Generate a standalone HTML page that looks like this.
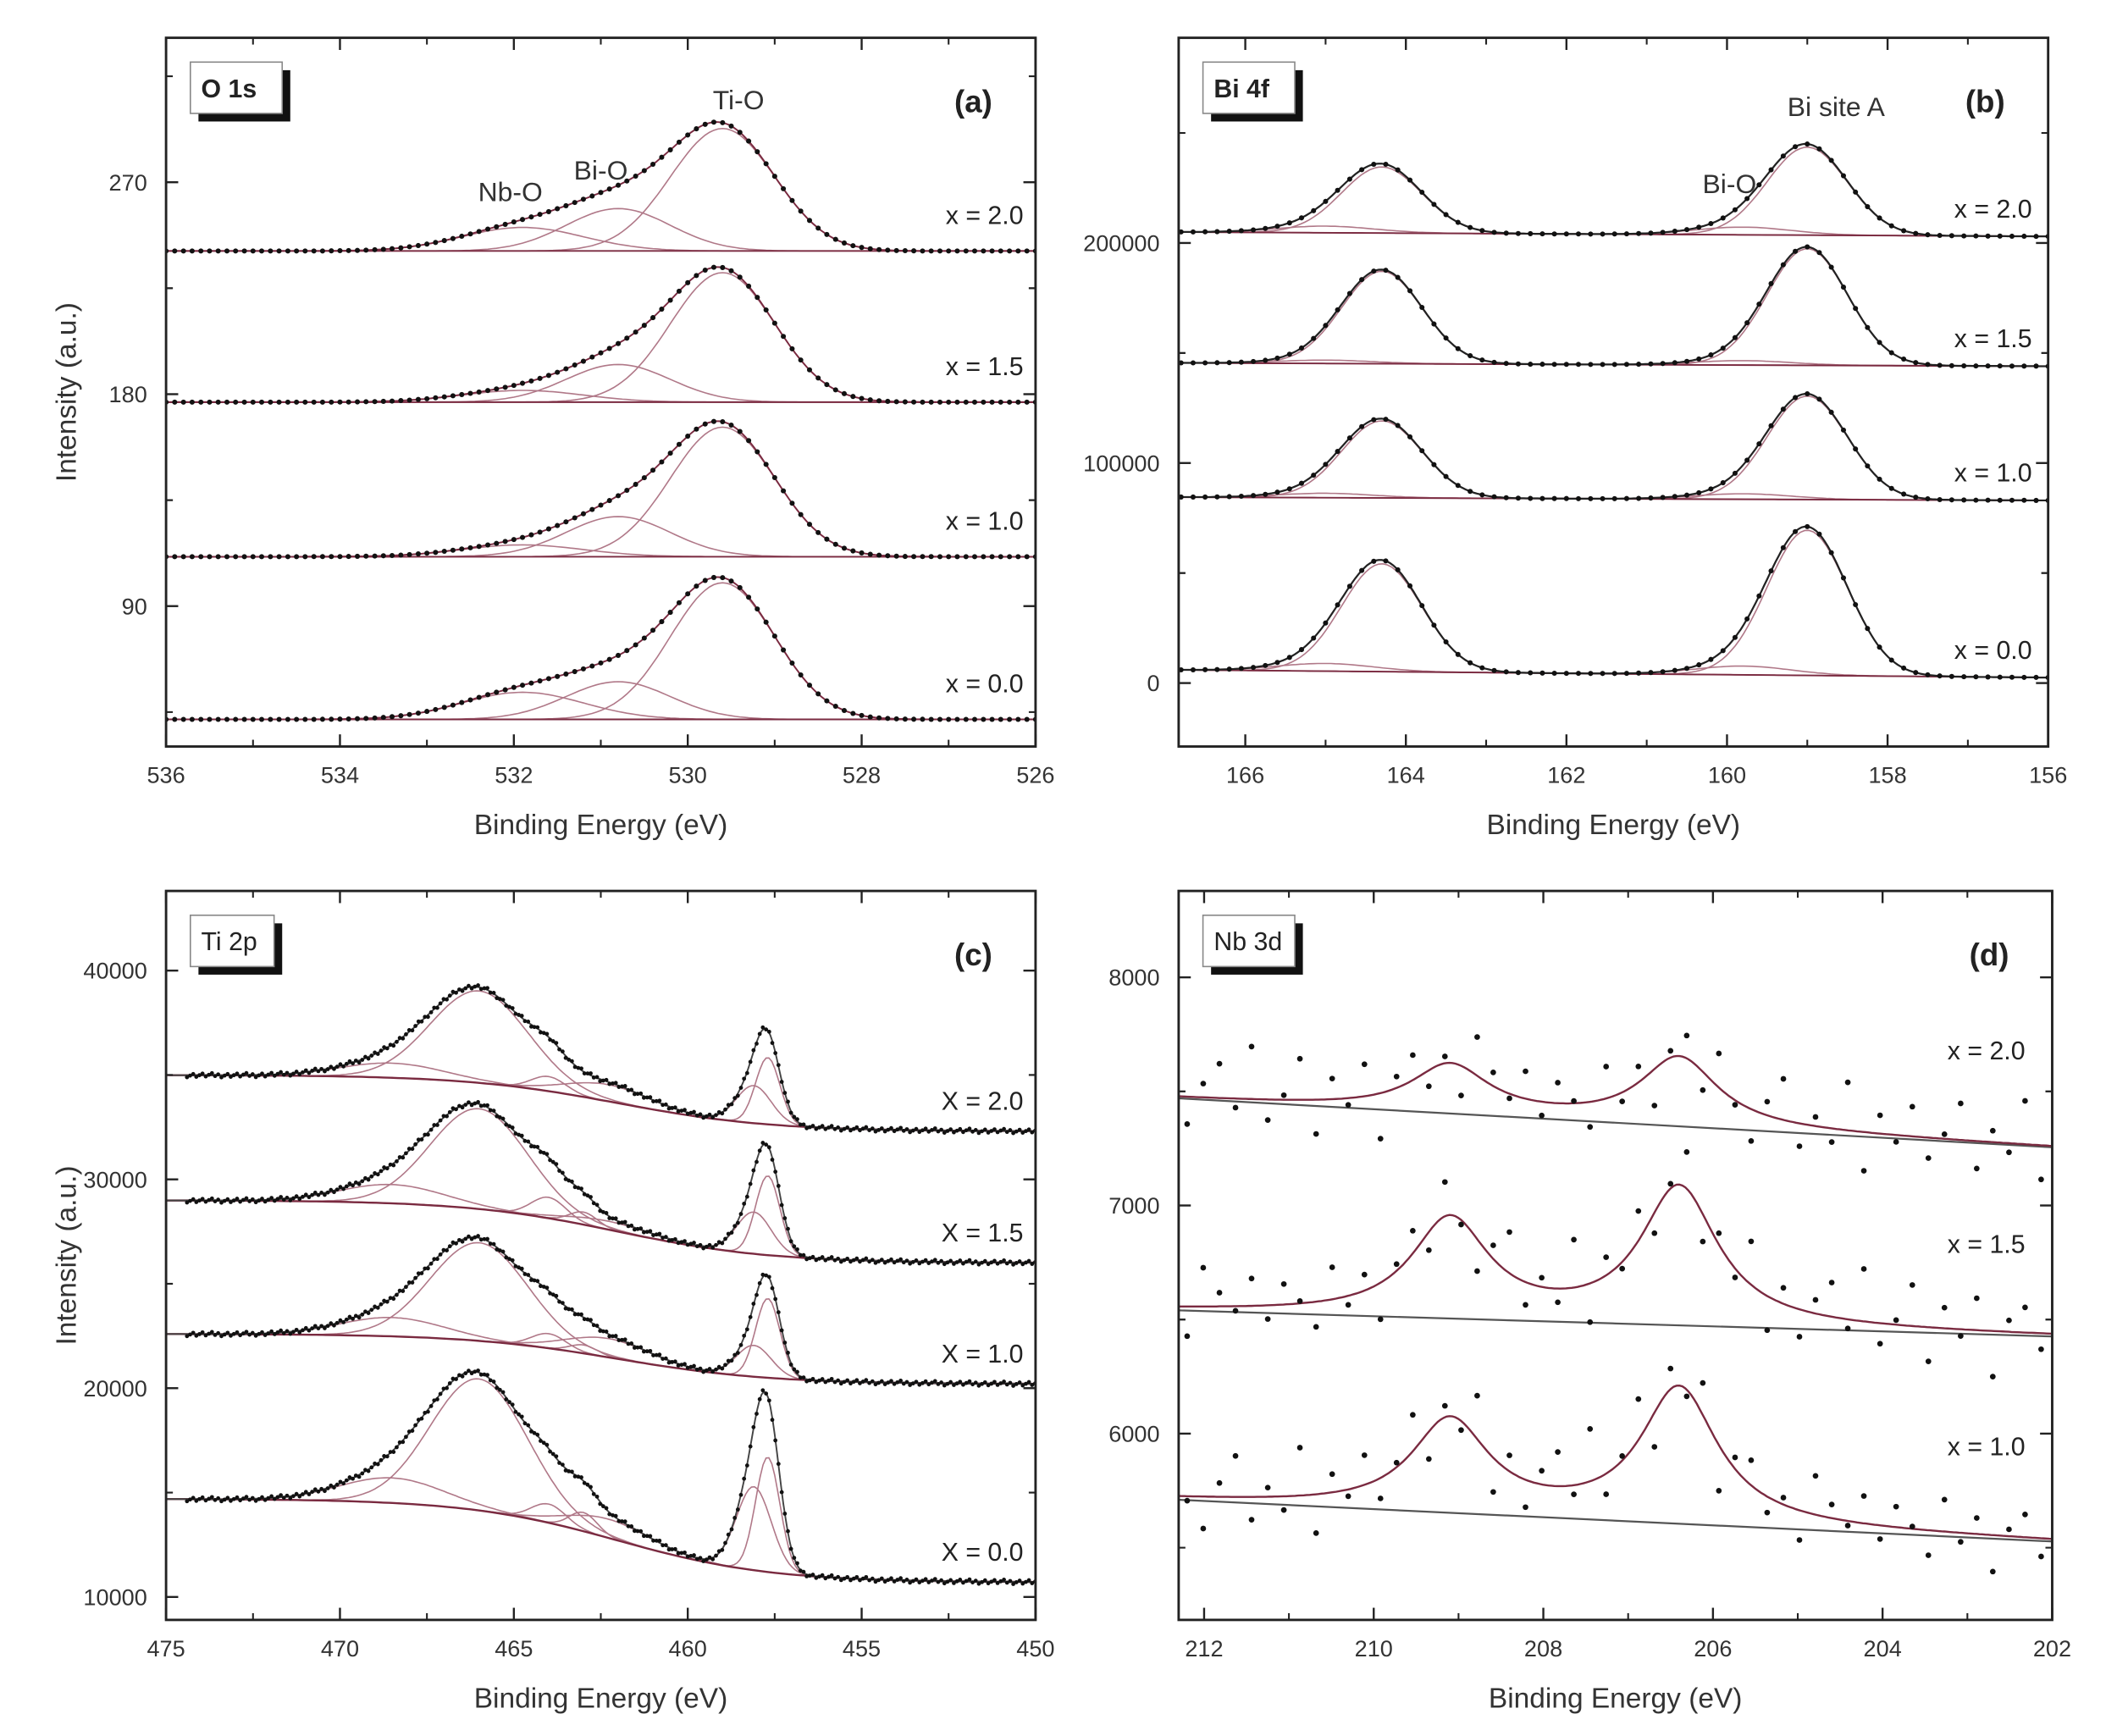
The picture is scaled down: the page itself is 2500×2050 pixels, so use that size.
<!DOCTYPE html>
<html><head><meta charset="utf-8"><style>
html,body{margin:0;padding:0;background:#fff;}
svg{display:block;font-family:"Liberation Sans",sans-serif;}
</style></head><body>
<svg id="fig" width="2500" height="2050" viewBox="0 0 1568 1286" preserveAspectRatio="none" xmlns="http://www.w3.org/2000/svg"></svg>
<script>
// ---------- Panel (a) O 1s data ----------
const aLabels=["x = 2.0","x = 1.5","x = 1.0","x = 0.0"];
const aBase=[240.8,176.6,111,41.9];
const aCenters=[529.6,530.8,531.9];
const aSigmas=[0.6,0.6,0.7];
const aAmps=[[52,18,10],[55,16,5],[55,17,5],[58,16,11.5]];
const aXTicks=[536,534,532,530,528,526];
const aYTicks=[90,180,270];
// ---------- Panel (b) Bi 4f data ----------
const bLabels=["x = 2.0","x = 1.5","x = 1.0","x = 0.0"];
const bBaseLeft=[205000,145500,84500,6000];
const bBaseRight=[203000,144000,83000,2500];
const bCenters=[164.3,159.0,165.0,159.8];
const bSigmas=[0.5,0.5,0.6,0.6];
const bAmps=[[30000,40000,3000,3500],[42000,53000,1500,2000],[35000,47000,2000,2500],[49000,66000,3500,4000]];
const bXTicks=[166,164,162,160,158,156];
const bYTicks=[0,100000,200000];
// ---------- Panel (c) Ti 2p data ----------
const cLabels=["X = 2.0","X = 1.5","X = 1.0","X = 0.0"];
const cBgLeft=[35000,29000,22600,14700];
const cBgRight=[32300,26000,20200,10700];
const cCenters=[466,468.5,464,463,462.3,458.1,457.7];
const cSigmas=[1.4,1.5,0.5,0.4,1.2,0.5,0.35];
const cAmps=[[4400,700,700,0,800,1800,3200],[4800,900,1000,600,400,2000,3800],[4700,900,700,400,900,1500,3800],[6300,1200,900,900,900,4000,5500]];
const cXTicks=[475,470,465,460,455,450];
const cYTicks=[10000,20000,30000,40000];
// ---------- Panel (d) Nb 3d data ----------
const dLabels=["x = 2.0","x = 1.5","x = 1.0"];
const dBgLeft=[7470,6540,5710];
const dBgRight=[7255,6426,5527];
const dCenters=[209.1,206.4];
const dAmps=[[210,300],[430,600],[400,590]];
const dResid=[-120,60,150,-40,230,-90,20,180,-150,90,-30,140,-200,50,110,-70,30,-130,170,60,-20,120,-60,90,10,-110,140,-40,70,-160,30,100,-80,150,-20,-140,60,180,-100,40,-60,210,-170,80,-30,130,-90,20,160,-120,50,-40,190,-150,70];
const dXTicks=[212,210,208,206,204,202];
const dYTicks=[6000,7000,8000];

const NS="http://www.w3.org/2000/svg";
const svg=document.getElementById('fig');
function el(tag,attrs,parent){const e=document.createElementNS(NS,tag);for(const k in attrs)e.setAttribute(k,attrs[k]);(parent||svg).appendChild(e);return e;}
function txt(s,attrs,parent){const e=el('text',attrs,parent);e.textContent=s;return e;}
const g=(E,c,a,s)=>a*Math.exp(-0.5*((E-c)/s)**2);
const lor=(E,c,a,w)=>a/(1+((E-c)/w)**2);
const COMP="#b07888", ENV="#7a2a40";

function makePanel(p){
  const grp=el('g',{});
  
  
  const sx=E=>p.x0+(p.e0-E)/(p.e0-p.e1)*(p.x1-p.x0);
  const sy=v=>p.ya+(v-p.va)*(p.yb-p.ya)/(p.vb-p.va);
  p.sx=sx;p.sy=sy;p.g=grp;
  const clip=el('clipPath',{id:'clip'+p.id},grp);
  el('rect',{x:p.x0,y:p.y0,width:p.x1-p.x0,height:p.y1-p.y0},clip);
  p.plot=el('g',{'clip-path':'url(#clip'+p.id+')'},grp);
  const fr=el('rect',{x:p.x0,y:p.y0,width:p.x1-p.x0,height:p.y1-p.y0,fill:'none',stroke:'#222','stroke-width':1.8},grp);
  
  const step=p.xt[1]-p.xt[0];
  p.xt.forEach((t,i)=>{
    const x=sx(t);
    el('line',{x1:x,y1:p.y1,x2:x,y2:p.y1-9,stroke:'#222','stroke-width':1.5},grp);
    el('line',{x1:x,y1:p.y0,x2:x,y2:p.y0+9,stroke:'#222','stroke-width':1.5},grp);
    const mx=sx(t+step/2);
    if(mx>p.x0&&mx<p.x1){el('line',{x1:mx,y1:p.y1,x2:mx,y2:p.y1-5,stroke:'#222','stroke-width':1.3},grp);el('line',{x1:mx,y1:p.y0,x2:mx,y2:p.y0+5,stroke:'#222','stroke-width':1.3},grp);}
    const lt=txt(String(t),{x:x,y:p.y1+27,'text-anchor':'middle','font-size':17,fill:'#333'},grp);
    
  });
  const ys=p.yt[1]-p.yt[0];
  p.yt.forEach(t=>{
    const y=sy(t);
    el('line',{x1:p.x0,y1:y,x2:p.x0+9,y2:y,stroke:'#222','stroke-width':1.5},grp);
    el('line',{x1:p.x1,y1:y,x2:p.x1-9,y2:y,stroke:'#222','stroke-width':1.5},grp);
    [t-ys/2,t+ys/2].forEach(m=>{const my=sy(m);if(my>p.y0+2&&my<p.y1-2){el('line',{x1:p.x0,y1:my,x2:p.x0+5,y2:my,stroke:'#222','stroke-width':1.3},grp);el('line',{x1:p.x1,y1:my,x2:p.x1-5,y2:my,stroke:'#222','stroke-width':1.3},grp);}});
    const lt=txt(String(t),{x:p.x0-14,y:y+6,'text-anchor':'end','font-size':17,fill:'#333'},grp);
    
  });
  const xt=txt('Binding Energy (eV)',{x:(p.x0+p.x1)/2,y:p.y1+65,'text-anchor':'middle','font-size':21,fill:'#333'},grp);
  
  if(p.ytitle){const yt=txt('Intensity (a.u.)',{x:0,y:0,transform:`translate(${p.x0-67},${(p.y0+p.y1)/2}) rotate(-90)`,'text-anchor':'middle','font-size':21,fill:'#333'},grp);
    }
  const lb=el('g',{},grp);
  el('rect',{x:p.x0+24,y:p.y0+24,width:p.bw,height:38,fill:'#111'},lb);
  el('rect',{x:p.x0+18,y:p.y0+18,width:p.bw,height:38,fill:'#fff',stroke:'#888','stroke-width':1},lb);
  txt(p.title,{x:p.x0+26,y:p.y0+44,'font-size':19,'font-weight':p.boldTitle?'bold':'normal',fill:'#222'},lb);
  const pl=txt(p.letter,{x:p.x1-32,y:p.y0+55,'text-anchor':'end','font-size':23,'font-weight':'bold',fill:'#222'},grp);
  
  return p;
}
function path(p,fn,e0,e1,n,attrs,name){
  let d='';for(let i=0;i<=n;i++){const E=e0+(e1-e0)*i/n;d+=(i?'L':'M')+p.sx(E).toFixed(1)+','+p.sy(fn(E)).toFixed(1);}
  const e=el('path',Object.assign({d:d,fill:'none'},attrs),p.plot);
  return e;
}
function dots(p,fn,e0,e1,step,r,name){
  const grp=el('g',{fill:'#111'},p.plot);
  
  let i=0;for(let E=e0;E>=e1-1e-9;E-=step,i++){el('circle',{cx:p.sx(E).toFixed(1),cy:p.sy(fn(E,i)).toFixed(1),r:r},grp);}
}
function seriesLabel(p,s,x,y){const t=txt(s,{x:x,y:y,'text-anchor':'end','font-size':19,fill:'#222'},p.g);}

// ---- Panel a ----
const pa=makePanel({id:'a',name:'panel-a-o1s',x0:123,x1:767,y0:28,y1:553,e0:536,e1:526,ya:606,va:0,yb:449,vb:90,xt:aXTicks,yt:aYTicks,ytitle:true,title:'O 1s',boldTitle:true,bw:68,letter:'(a)'});
aLabels.forEach((lab,s)=>{
  const b=aBase[s];
  aCenters.forEach((c,k)=>path(pa,E=>b+g(E,c,aAmps[s][k],aSigmas[k]),536,526,200,{stroke:COMP,'stroke-width':1},'component-curve'));
  const env=E=>b+aCenters.reduce((acc,c,k)=>acc+g(E,c,aAmps[s][k],aSigmas[k]),0);
  path(pa,E=>b,536,526,2,{stroke:ENV,'stroke-width':1.2},'baseline');
  path(pa,env,536,526,300,{stroke:ENV,'stroke-width':1.2},'envelope-fit');
  dots(pa,E=>env(E),536,526,0.1,1.9,'data-points-'+s);
  seriesLabel(pa,lab,758,pa.sy(b)-20);
});
[['Nb-O',378,149],['Bi-O',445,133],['Ti-O',547,81]].forEach(([t,x,y])=>{const e=txt(t,{x:x,y:y,'text-anchor':'middle','font-size':20,fill:'#333'},pa.g);});

// ---- Panel b ----
const pb=makePanel({id:'b',name:'panel-b-bi4f',x0:873,x1:1517,y0:28,y1:553,e0:166.83,e1:156,ya:506,va:0,yb:343,vb:100000,xt:bXTicks,yt:bYTicks,ytitle:false,title:'Bi 4f',boldTitle:true,bw:68,letter:'(b)'});
bLabels.forEach((lab,s)=>{
  const base=E=>bBaseRight[s]+(bBaseLeft[s]-bBaseRight[s])*(E-156)/(166.83-156);
  bCenters.forEach((c,k)=>path(pb,E=>base(E)+g(E,c,bAmps[s][k],bSigmas[k]),166.83,156,200,{stroke:COMP,'stroke-width':1},'component-curve'));
  const env=E=>base(E)+bCenters.reduce((acc,c,k)=>acc+g(E,c,bAmps[s][k],bSigmas[k]),0);
  path(pb,base,166.83,156,2,{stroke:ENV,'stroke-width':1.2},'baseline');
  path(pb,env,166.83,156,300,{stroke:'#222','stroke-width':1.4},'envelope-fit');
  dots(pb,E=>env(E),166.8,156,0.15,1.9,'data-points-'+s);
  seriesLabel(pb,lab,1505,pb.sy(base(156))-14);
});
[['Bi-O',1281,143],['Bi site A',1360,86]].forEach(([t,x,y])=>{const e=txt(t,{x:x,y:y,'text-anchor':'middle','font-size':20,fill:'#333'},pb.g);});

// ---- Panel c ----
const pc=makePanel({id:'c',name:'panel-c-ti2p',x0:123,x1:767,y0:660,y1:1200,e0:475,e1:450,ya:1183,va:10000,yb:719,vb:40000,xt:cXTicks,yt:cYTicks,ytitle:true,title:'Ti 2p',boldTitle:false,bw:62,letter:'(c)'});
cLabels.forEach((lab,s)=>{
  const bg=E=>cBgRight[s]+(cBgLeft[s]-cBgRight[s])/(1+Math.exp(-(E-462)/2.2));
  cCenters.forEach((c,k)=>{if(cAmps[s][k]>0)path(pc,E=>bg(E)+g(E,c,cAmps[s][k],cSigmas[k]),475,450,300,{stroke:COMP,'stroke-width':1},'component-curve');});
  const env=E=>bg(E)+cCenters.reduce((acc,c,k)=>acc+g(E,c,cAmps[s][k],cSigmas[k]),0);
  path(pc,bg,475,450,120,{stroke:ENV,'stroke-width':1.5},'background');
  path(pc,env,475,450,400,{stroke:'#444','stroke-width':1.2},'envelope-fit');
  dots(pc,(E,i)=>env(E)+((i*37)%11-5)*20,474.4,450,0.09,1.5,'data-points-'+s);
  seriesLabel(pc,lab,758,pc.sy(cBgRight[s])-16);
});

// ---- Panel d ----
const pd=makePanel({id:'d',name:'panel-d-nb3d',x0:873,x1:1520,y0:660,y1:1200,e0:212.3,e1:202,ya:1062,va:6000,yb:893,vb:7000,xt:dXTicks,yt:dYTicks,ytitle:false,title:'Nb 3d',boldTitle:false,bw:68,letter:'(d)'});
dLabels.forEach((lab,s)=>{
  const bg=E=>dBgRight[s]+(dBgLeft[s]-dBgRight[s])*(E-202)/(212.3-202);
  const fit=E=>bg(E)+dCenters.reduce((acc,c,k)=>acc+lor(E,c,dAmps[s][k],0.55),0);
  path(pd,bg,212.3,202,2,{stroke:'#555','stroke-width':1.4},'background');
  path(pd,fit,212.3,202,300,{stroke:ENV,'stroke-width':1.5},'envelope-fit');
  dots(pd,(E,i)=>fit(E)+dResid[(i+s*17)%dResid.length],212.2,202,0.19,2.1,'data-points-'+s);
  seriesLabel(pd,lab,1500,pd.sy(bg(204))-58);
});
</script>
</body></html>
